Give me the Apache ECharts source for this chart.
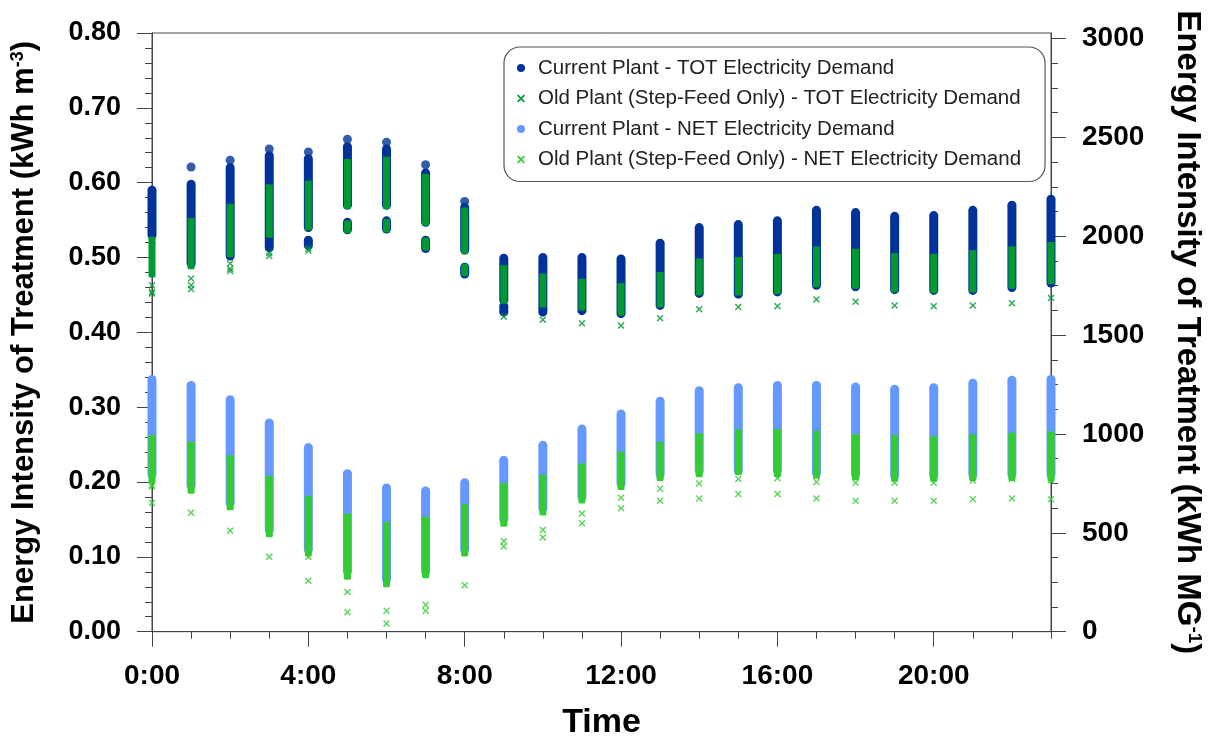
<!DOCTYPE html>
<html><head><meta charset="utf-8">
<script src="https://cdn.jsdelivr.net/npm/echarts@6/dist/echarts.min.js"></script>
<style>html,body{margin:0;padding:0;background:#fff}#c{width:1208px;height:736px}</style>
</head><body><div id="c"></div>
<script>
// ---------- data (kWh m^-3), one entry per hour 0..23 ----------
const hours = [0,1,2,3,4,5,6,7,8,9,10,11,12,13,14,15,16,17,18,19,20,21,22,23];

// Current Plant - TOT (dark blue dots): main dense range, lower cluster, isolated dots
const totCurLo  = [0.530,0.492,0.502,0.513,0.540,0.570,0.570,0.547,0.510,0.443,0.427,0.429,0.425,0.436,0.452,0.451,0.454,0.463,0.461,0.457,0.456,0.456,0.460,0.466];
const totCurHi  = [0.590,0.598,0.620,0.636,0.632,0.648,0.645,0.613,0.567,0.499,0.500,0.500,0.498,0.519,0.540,0.544,0.549,0.563,0.560,0.555,0.556,0.563,0.570,0.578];
const totCurLo2 = [null,null,null,null,0.516,0.537,0.538,0.512,0.478,0.427,null,null,null,null,null,null,null,null,null,null,null,null,null,null];
const totCurHi2 = [null,null,null,null,0.523,0.547,0.549,0.523,0.487,0.435,null,null,null,null,null,null,null,null,null,null,null,null,null,null];
const totCurExtra = [[],[0.621],[0.630],[0.645],[0.641],[0.658],[0.654],[0.624],[0.575],[],[],[],[],[],[],[],[],[],[],[],[],[],[],[]];

// Old Plant (Step-Feed Only) - TOT (dark green crosses)
const totOldLo  = [0.478,0.489,0.505,0.531,0.541,0.569,0.569,0.547,0.509,0.443,0.438,0.434,0.427,0.438,0.454,0.454,0.456,0.465,0.463,0.458,0.457,0.458,0.463,0.469];
const totOldHi  = [0.523,0.548,0.567,0.593,0.598,0.627,0.630,0.607,0.562,0.485,0.474,0.467,0.461,0.476,0.494,0.496,0.500,0.510,0.507,0.501,0.500,0.505,0.510,0.516];
const totOldLo2 = [null,null,null,null,null,0.537,0.538,0.514,0.480,null,null,null,null,null,null,null,null,null,null,null,null,null,null,null];
const totOldHi2 = [null,null,null,null,null,0.545,0.547,0.522,0.487,null,null,null,null,null,null,null,null,null,null,null,null,null,null,null];
const totOldExtra = [[0.463,0.454,0.452],[0.472,0.463,0.458],[0.492,0.485,0.482],[0.506,0.502],[0.512,0.509],[],[],[],[],[0.421],[0.417],[0.412],[0.409],[0.419],[0.431],[0.434],[0.435],[0.444],[0.441],[0.436],[0.435],[0.436],[0.439],[0.446]];

// Current Plant - NET (light blue dots)
const netCurLo = [0.210,0.195,0.172,0.136,0.110,0.080,0.070,0.080,0.110,0.150,0.165,0.180,0.198,0.210,0.215,0.215,0.215,0.212,0.210,0.208,0.208,0.210,0.210,0.210];
const netCurHi = [0.337,0.329,0.310,0.279,0.246,0.211,0.192,0.188,0.199,0.229,0.249,0.271,0.291,0.308,0.322,0.326,0.329,0.329,0.327,0.324,0.326,0.332,0.336,0.337];

// Old Plant (Step-Feed Only) - NET (bright green crosses)
const netOldLo = [0.203,0.189,0.167,0.131,0.105,0.074,0.064,0.076,0.105,0.145,0.160,0.176,0.194,0.206,0.211,0.214,0.211,0.209,0.207,0.205,0.205,0.206,0.206,0.205];
const netOldHi = [0.258,0.249,0.231,0.203,0.177,0.153,0.142,0.149,0.166,0.194,0.205,0.220,0.236,0.249,0.260,0.266,0.266,0.264,0.259,0.258,0.256,0.259,0.261,0.263];
const netOldExtra = [[0.196,0.194,0.172],[0.159],[0.135],[0.100],[0.100,0.068],[0.053,0.026],[0.028,0.011],[0.036,0.028],[0.062],[0.121,0.114],[0.136,0.126],[0.158,0.145],[0.179,0.165],[0.191,0.175],[0.198,0.178],[0.204,0.184],[0.205,0.184],[0.200,0.178],[0.199,0.175],[0.199,0.175],[0.199,0.175],[0.202,0.177],[0.204,0.178],[0.202,0.177]];

// axis ticks / labels
const xMajorTicks = [0,4,8,12,16,20];
const yRightTicks = [0,500,1000,1500,2000,2500,3000];
const M3_PER_MG = 3785.41;

const S1 = 'Current Plant - TOT Electricity Demand';
const S2 = 'Old Plant (Step-Feed Only) - TOT Electricity Demand';
const S3 = 'Current Plant - NET Electricity Demand';
const S4 = 'Old Plant (Step-Feed Only) - NET Electricity Demand';
const C1 = '#003399', C2 = '#009933', C3 = '#6699ff', C4 = '#33cc33';
const XPATH = 'path://M1.5,0 L5,3.5 L8.5,0 L10,1.5 L6.5,5 L10,8.5 L8.5,10 L5,6.5 L1.5,10 L0,8.5 L3.5,5 L0,1.5 Z';
const FONT = 'Liberation Sans, Arial, sans-serif';

// ---------- helpers building library data ----------
function ranges(lo, hi) {
  const out = [];
  hours.forEach((h, i) => { if (lo[i] != null && hi[i] != null) out.push([h, lo[i], hi[i]]); });
  return out;
}
function points(extra) {
  const out = [];
  hours.forEach((h, i) => extra[i].forEach(v => out.push([h, v])));
  return out;
}
function tops(hi) { return hours.map((h, i) => [h, hi[i]]); }
function rangeRenderer(width, radius) {
  return function (params, api) {
    const x = api.value(0), lo = api.value(1), hi = api.value(2);
    const p1 = api.coord([x, hi]), p2 = api.coord([x, lo]);
    return {
      type: 'rect',
      shape: { x: p1[0] - width / 2, y: p1[1] - width / 2, width: width, height: (p2[1] - p1[1]) + width, r: radius },
      style: { fill: api.visual('color') }
    };
  };
}
function rangeSeries(name, color, data, width, radius, z) {
  return { type: 'custom', name, data, encode: { x: 0, y: [1, 2] }, renderItem: rangeRenderer(width, radius),
           itemStyle: { color }, clip: false, z, silent: true };
}
function pointSeries(name, color, data, symbol, size, z) {
  return { type: 'scatter', name, data, symbol, symbolSize: size, itemStyle: { color }, clip: false, z, silent: true };
}

const axisColor = '#444';
const chart = echarts.init(document.getElementById('c'), null, { renderer: 'canvas' });
chart.setOption({
  animation: false,
  backgroundColor: '#fff',
  grid: { left: 152, right: 157, top: 33, bottom: 104.3, show: true, borderColor: axisColor, borderWidth: 1,
          outerBoundsMode: 'none', containLabel: false },
  legend: {
    orient: 'vertical', left: 504, top: 47,
    padding: [10, 24, 11, 13],
    itemWidth: 24, itemHeight: 8, itemGap: 8.5,
    borderColor: '#555', borderWidth: 1.2, borderRadius: 16,
    backgroundColor: '#fff',
    selectedMode: false,
    textStyle: { fontFamily: FONT, fontSize: 20.5, color: '#222', lineHeight: 22 },
    data: [
      { name: S1, icon: 'circle', itemStyle: { color: C1 } },
      { name: S2, icon: XPATH, itemStyle: { color: C2 } },
      { name: S3, icon: 'circle', itemStyle: { color: C3 } },
      { name: S4, icon: XPATH, itemStyle: { color: C4 } }
    ]
  },
  xAxis: [
    {
      type: 'value', min: 0, max: 23, position: 'bottom',
      name: 'Time', nameLocation: 'middle', nameGap: 74,
      nameTextStyle: { fontFamily: FONT, fontWeight: 'bold', fontSize: 34, color: '#000' },
      axisLine: { show: true, onZero: false, lineStyle: { color: axisColor, width: 1 } },
      axisTick: { show: true, length: 15, customValues: xMajorTicks, lineStyle: { color: axisColor } },
      axisLabel: { customValues: xMajorTicks, formatter: v => v + ':00', margin: 31,
                   fontFamily: FONT, fontWeight: 'bold', fontSize: 28, color: '#000' },
      splitLine: { show: false }
    },
    {
      type: 'value', min: 0, max: 23, position: 'top', offset: -598.7,
      axisLine: { show: false, onZero: false },
      axisTick: { show: true, inside: true, length: 7, customValues: hours, lineStyle: { color: axisColor } },
      axisLabel: { show: false }, splitLine: { show: false }
    }
  ],
  yAxis: [
    {
      type: 'value', min: 0, max: 0.8, interval: 0.1, position: 'left',
      name: '{t|Energy Intensity of Treatment (kWh m}{s|-3}{t|)}',
      nameLocation: 'middle', nameGap: 112,
      nameTextStyle: { rich: {
        t: { fontFamily: FONT, fontWeight: 'bold', fontSize: 31, color: '#000' },
        s: { fontFamily: FONT, fontWeight: 'bold', fontSize: 18, color: '#000', verticalAlign: 'top' } } },
      axisLine: { show: true, onZero: false, lineStyle: { color: axisColor, width: 1 } },
      axisTick: { show: true, length: 15, lineStyle: { color: axisColor } },
      minorTick: { show: true, splitNumber: 5, length: 7, lineStyle: { color: axisColor } },
      axisLabel: { formatter: v => v.toFixed(2), margin: 31, fontFamily: FONT, fontWeight: 'bold', fontSize: 27, color: '#000' },
      splitLine: { show: false }
    },
    {
      type: 'value', min: 0, max: 0.8 * M3_PER_MG, interval: 500, position: 'right',
      name: '{t|Energy Intensity of Treatment (kWh MG}{s|-1}{t|)}',
      nameLocation: 'middle', nameGap: 120, nameRotate: -90,
      nameTextStyle: { rich: {
        t: { fontFamily: FONT, fontWeight: 'bold', fontSize: 33, color: '#000' },
        s: { fontFamily: FONT, fontWeight: 'bold', fontSize: 19, color: '#000', verticalAlign: 'top' } } },
      axisLine: { show: true, onZero: false, lineStyle: { color: axisColor, width: 1 } },
      axisTick: { show: true, length: 15, customValues: yRightTicks, lineStyle: { color: axisColor } },
      minorTick: { show: true, splitNumber: 4, length: 7, lineStyle: { color: axisColor } },
      axisLabel: { customValues: yRightTicks, formatter: v => String(v), margin: 31,
                   fontFamily: FONT, fontWeight: 'bold', fontSize: 28, color: '#000' },
      splitLine: { show: false }
    }
  ],
  series: [
    rangeSeries(S1, C1, ranges(totCurLo, totCurHi), 9, 4.5, 2),
    rangeSeries(S1, C1, ranges(totCurLo2, totCurHi2), 9, 4.5, 2),
    pointSeries(S1, C1, points(totCurExtra), 'circle', 9, 2),
    rangeSeries(S2, C2, ranges(totOldLo, totOldHi), 7, 1.5, 3),
    rangeSeries(S2, C2, ranges(totOldLo2, totOldHi2), 7, 1.5, 3),
    pointSeries(S2, C2, tops(totOldHi), XPATH, 8, 3),
    pointSeries(S2, C2, points(totOldExtra), XPATH, 7, 3),
    rangeSeries(S3, C3, ranges(netCurLo, netCurHi), 9, 4.5, 4),
    rangeSeries(S4, C4, ranges(netOldLo, netOldHi), 7, 1.5, 5),
    pointSeries(S4, C4, tops(netOldHi), XPATH, 8, 5),
    pointSeries(S4, C4, points(netOldExtra), XPATH, 7, 5)
  ]
});
</script></body></html>
